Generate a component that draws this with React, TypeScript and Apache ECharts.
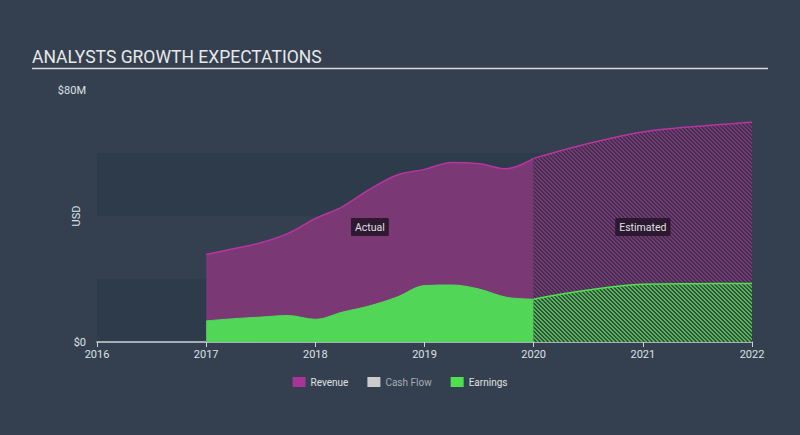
import React, { useEffect, useRef } from "react";
import * as echarts from "echarts";

const yearTicks = [2016, 2017, 2018, 2019, 2020, 2021, 2022];
const actualX = [2017, 2017.25, 2017.5, 2017.75, 2018, 2018.25, 2018.5, 2018.75, 2019, 2019.25, 2019.5, 2019.75, 2020];
const revenueActual = [27.8, 29.6, 31.5, 34.5, 39.2, 43, 48.5, 53, 54.8, 57, 56.6, 55, 58.3];
const earningsActual = [6.7, 7.4, 7.9, 8.4, 7.2, 9.5, 11.5, 14.3, 17.9, 18.1, 16.8, 14.2, 13.6];
const estX = [2020, 2020.5, 2021, 2021.5, 2022];
const revenueEst = [58.3, 63, 66.7, 68.5, 69.8];
const earningsEst = [13.6, 16.5, 18.3, 18.5, 18.6];
const legendNames = ["Revenue", "Cash Flow", "Earnings"];

function hatch(stripe: string, base: string) {
  const c = document.createElement("canvas");
  const n = 4;
  c.width = n;
  c.height = n;
  const ctx = c.getContext("2d")!;
  for (let i = 0; i < n; i++) {
    for (let j = 0; j < n; j++) {
      const k = (((i - j) % n) + n) % n;
      ctx.fillStyle = k < 2 ? stripe : base;
      ctx.fillRect(i, j, 1, 1);
    }
  }
  return { image: c, repeat: "repeat" } as any;
}

export default function App() {
  const ref = useRef<HTMLDivElement>(null);
  useEffect(() => {
    const chart = echarts.init(ref.current!, null, { renderer: "svg" });
    const zip = (xs: number[], ys: number[]) => xs.map((x, i) => [x, ys[i]]);
    const labelStyle = {
      show: true,
      position: "inside",
      color: "#e0e0e0",
      fontSize: 10.5,
      fontFamily: "Roboto",
      backgroundColor: "rgba(40,22,44,0.92)",
      padding: [4, 4, 3, 4],
      borderRadius: 1,
    };
    chart.setOption({
      animation: false,
      backgroundColor: "#344050",
      textStyle: { fontFamily: "Roboto" },
      title: {
        text: "ANALYSTS GROWTH EXPECTATIONS",
        left: 27,
        top: 43,
        textStyle: { color: "#e8e8e8", fontSize: 17.5, fontWeight: "normal", fontFamily: "Roboto" },
      },
      graphic: [
        {
          type: "line",
          shape: { x1: 32, y1: 68.5, x2: 768, y2: 68.5 },
          style: { stroke: "#d8d8d8", lineWidth: 1.5 },
        },
      ],
      legend: {
        bottom: 43,
        left: "center",
        itemWidth: 13,
        itemHeight: 10,
        itemGap: 19,
        itemTextGap: 5,
        icon: "rect",
        textStyle: { color: "#e0e0e0", fontSize: 10 },
        data: [
          { name: legendNames[0], itemStyle: { color: "#a8349a" } },
          { name: legendNames[1], itemStyle: { color: "#cccccc" }, textStyle: { color: "#a8adb5" } },
          { name: legendNames[2], itemStyle: { color: "#4fe04f" } },
        ],
      },
      grid: { left: 97, right: 48, top: 90, bottom: 93 },
      xAxis: {
        type: "value",
        min: yearTicks[0],
        max: yearTicks[yearTicks.length - 1],
        interval: 1,
        axisLine: { lineStyle: { color: "#cfd3d8", width: 1.5 } },
        axisTick: { show: true, length: 5, lineStyle: { color: "#cfd3d8" } },
        axisLabel: { color: "#dde0e4", fontSize: 11, margin: 7, formatter: (v: number) => String(v) },
        splitLine: { show: false },
      },
      yAxis: {
        type: "value",
        min: 0,
        max: 80,
        interval: 20,
        name: "USD",
        nameLocation: "middle",
        nameRotate: 90,
        nameGap: 15,
        nameMoveOverlap: false,
        nameTextStyle: { color: "#dde0e4", fontSize: 11 },
        axisLine: { show: false },
        axisTick: { show: false },
        axisLabel: {
          color: "#dde0e4",
          fontSize: 11,
          margin: 11,
          formatter: (v: number) => (v === 0 ? "$0" : v === 80 ? "$80M" : ""),
        },
        splitLine: { show: false },
        splitArea: { show: true, areaStyle: { color: ["#2e3b4a", "rgba(0,0,0,0)", "#2e3b4a", "rgba(0,0,0,0)"] } },
      },
      series: [
        {
          name: "Revenue",
          type: "line",
          data: zip(actualX, revenueActual),
          smooth: 0.35,
          showSymbol: false,
          symbol: "none",
          lineStyle: { color: "#b8349f", width: 1.5 },
          itemStyle: { color: "#a8349a" },
          areaStyle: { color: "#7a3875", opacity: 1 },
          markPoint: {
            symbol: "circle",
            symbolSize: 0,
            data: [{ coord: [2018.5, 36.5], label: { ...labelStyle, formatter: "Actual" } }],
          },
          z: 2,
        },
        {
          name: "Revenue",
          type: "line",
          data: zip(estX, revenueEst),
          smooth: 0.35,
          showSymbol: false,
          symbol: "none",
          lineStyle: { color: "#b8349f", width: 1.5 },
          itemStyle: { color: "#a8349a" },
          areaStyle: { color: hatch("#7a3875", "#3e3150"), opacity: 1 },
          markPoint: {
            symbol: "circle",
            symbolSize: 0,
            data: [{ coord: [2021, 36.5], label: { ...labelStyle, formatter: "Estimated" } }],
          },
          z: 2,
        },
        {
          name: "Cash Flow",
          type: "line",
          data: [],
          itemStyle: { color: "#cccccc" },
        },
        {
          name: "Earnings",
          type: "line",
          data: zip(actualX, earningsActual),
          smooth: 0.35,
          showSymbol: false,
          symbol: "none",
          lineStyle: { color: "#52d858", width: 1 },
          itemStyle: { color: "#4fe04f" },
          areaStyle: { color: "#52d658", opacity: 1 },
          z: 3,
        },
        {
          name: "Earnings",
          type: "line",
          data: zip(estX, earningsEst),
          smooth: 0.35,
          showSymbol: false,
          symbol: "none",
          lineStyle: { color: "#4fe34f", width: 1.5 },
          itemStyle: { color: "#4fe04f" },
          areaStyle: { color: hatch("#4fb84f", "#394d47"), opacity: 1 },
          z: 3,
        },
      ],
    });
    return () => chart.dispose();
  }, []);
  return <div ref={ref} style={{ width: 800, height: 435, position: "absolute", left: 0, top: 0 }} />;
}
